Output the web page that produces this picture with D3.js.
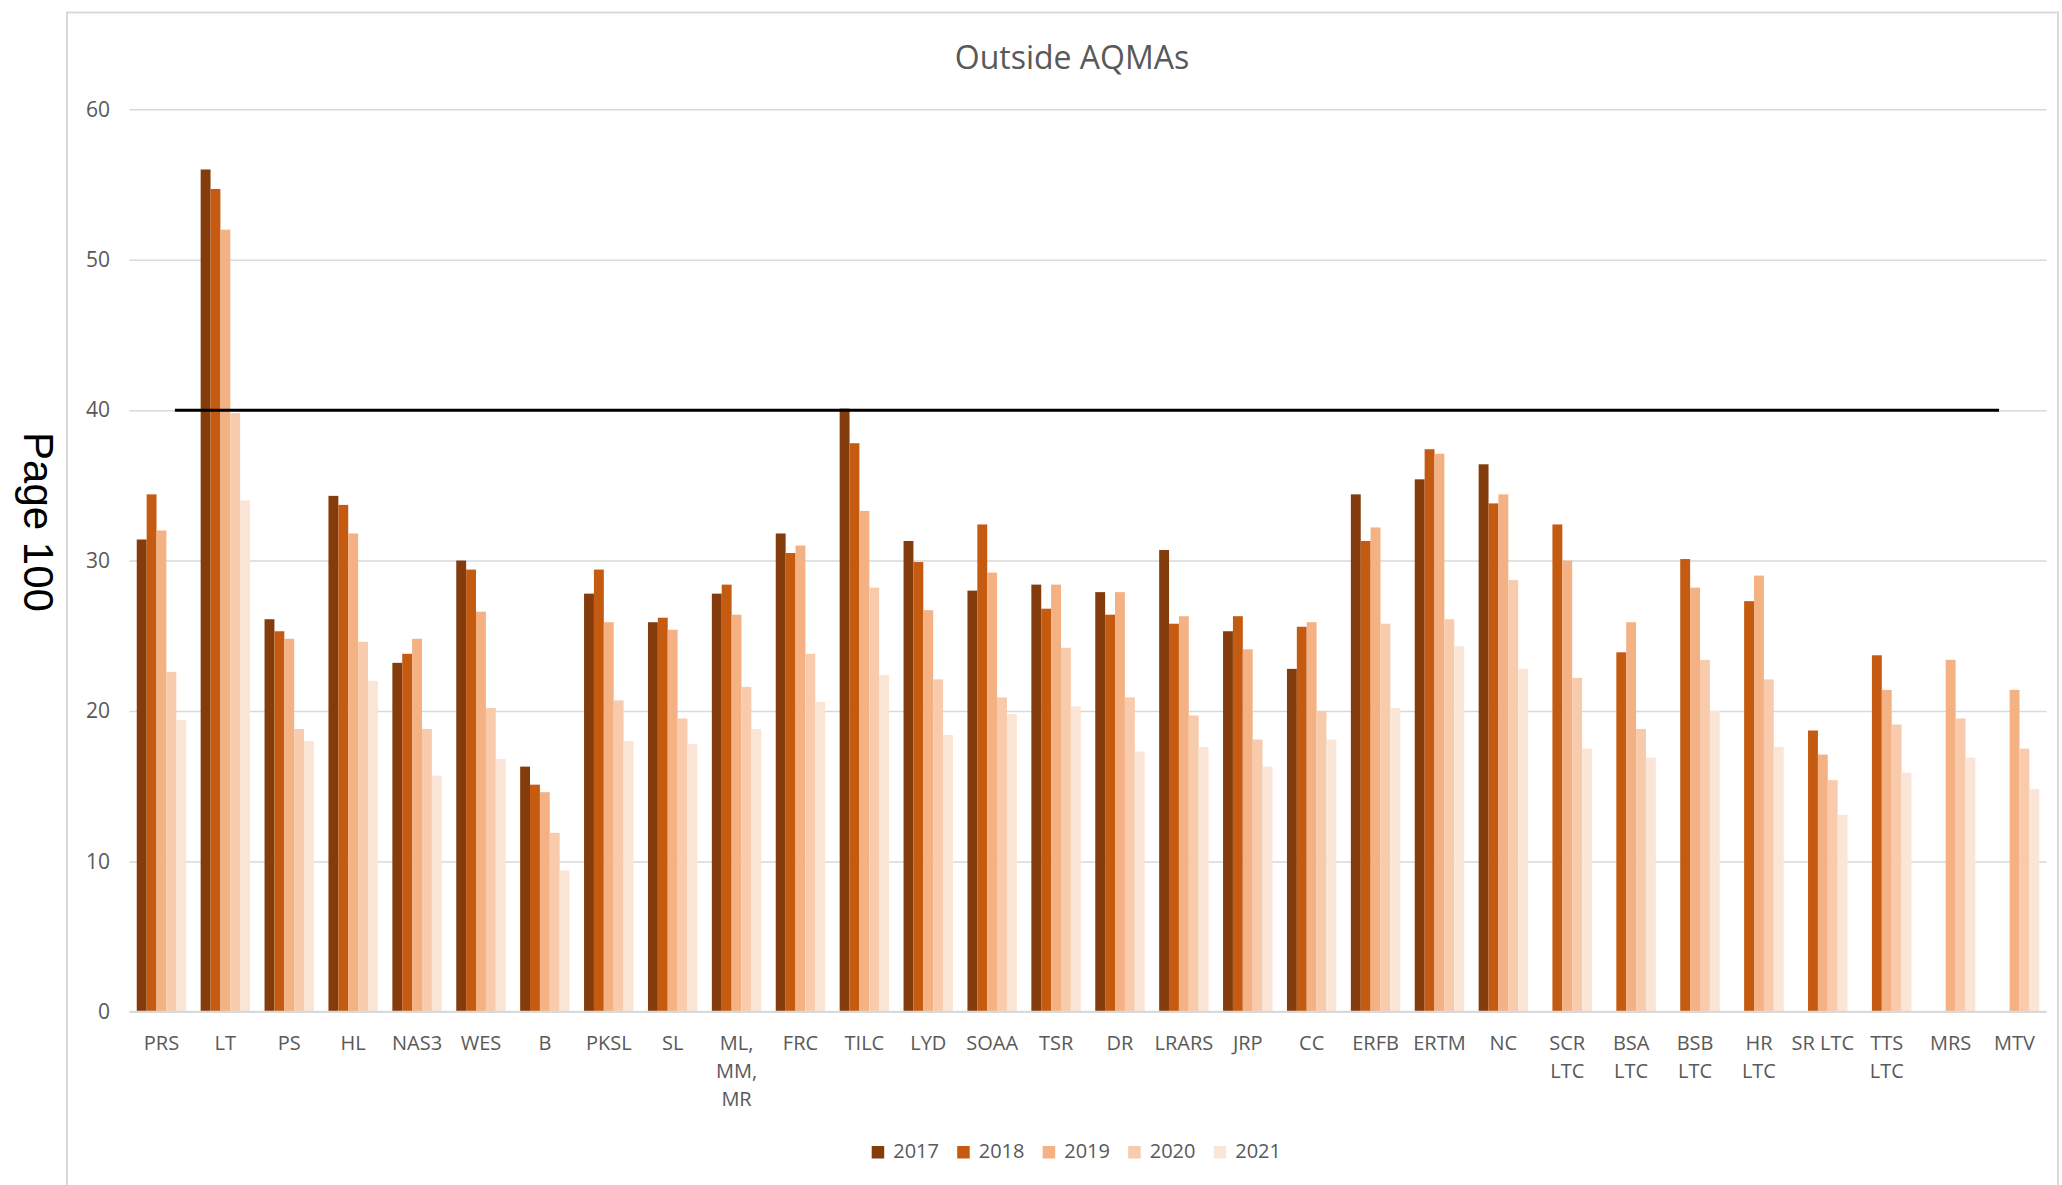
<!DOCTYPE html>
<html>
<head>
<meta charset="utf-8">
<script src="https://cdn.jsdelivr.net/npm/d3@7"></script>
<style>
  html, body { margin: 0; padding: 0; background: #fff; }
  svg { display: block; }
  text { font-family: "Open Sans", "DejaVu Sans", sans-serif; }
</style>
</head>
<body>
<svg id="chart" width="2062" height="1185"></svg>
<script>
// ---------- data ----------
const categories = ["PRS","LT","PS","HL","NAS3","WES","B","PKSL","SL","ML, MM, MR","FRC","TILC","LYD","SOAA","TSR","DR","LRARS","JRP","CC","ERFB","ERTM","NC","SCR LTC","BSA LTC","BSB LTC","HR LTC","SR LTC","TTS LTC","MRS","MTV"];
const categoryLabels = [["PRS"],["LT"],["PS"],["HL"],["NAS3"],["WES"],["B"],["PKSL"],["SL"],["ML,","MM,","MR"],["FRC"],["TILC"],["LYD"],["SOAA"],["TSR"],["DR"],["LRARS"],["JRP"],["CC"],["ERFB"],["ERTM"],["NC"],["SCR","LTC"],["BSA","LTC"],["BSB","LTC"],["HR","LTC"],["SR LTC"],["TTS","LTC"],["MRS"],["MTV"]];
const years = ["2017","2018","2019","2020","2021"];
const colors = ["#843C0C","#C55A11","#F4B183","#F8CBAD","#FBE5D6"];
const v2017 = [31.4,56.0,26.1,34.3,23.2,30.0,16.3,27.8,25.9,27.8,31.8,40.1,31.3,28.0,28.4,27.9,30.7,25.3,22.8,34.4,35.4,36.4,null,null,null,null,null,null,null,null];
const v2018 = [34.4,54.7,25.3,33.7,23.8,29.4,15.1,29.4,26.2,28.4,30.5,37.8,29.9,32.4,26.8,26.4,25.8,26.3,25.6,31.3,37.4,33.8,32.4,23.9,30.1,27.3,18.7,23.7,null,null];
const v2019 = [32.0,52.0,24.8,31.8,24.8,26.6,14.6,25.9,25.4,26.4,31.0,33.3,26.7,29.2,28.4,27.9,26.3,24.1,25.9,32.2,37.1,34.4,30.0,25.9,28.2,29.0,17.1,21.4,23.4,21.4];
const v2020 = [22.6,39.8,18.8,24.6,18.8,20.2,11.9,20.7,19.5,21.6,23.8,28.2,22.1,20.9,24.2,20.9,19.7,18.1,20.0,25.8,26.1,28.7,22.2,18.8,23.4,22.1,15.4,19.1,19.5,17.5];
const v2021 = [19.4,34.0,18.0,22.0,15.7,16.8,9.4,18.0,17.8,18.8,20.6,22.4,18.4,19.8,20.3,17.3,17.6,16.3,18.1,20.2,24.3,22.8,17.5,16.9,20.0,17.6,13.1,15.9,16.9,14.8];
const series = [v2017, v2018, v2019, v2020, v2021];
const yTicks = [0,10,20,30,40,50,60];
const limitValue = 40;
const title = "Outside AQMAs";
const sideNote = "Page 100";

// ---------- layout ----------
const svg = d3.select("#chart");
const plotLeft = 129.5, plotRight = 2046.5, plotTop = 109.3, plotBottom = 1011.8;

const x0 = d3.scaleBand().domain(categories).range([plotLeft, plotRight])
  .paddingInner(0.227).paddingOuter(0.1135);
const x1 = d3.scaleBand().domain(years).range([0, x0.bandwidth()]);
const y = d3.scaleLinear().domain([0, 60]).range([plotBottom, plotTop]);
const color = d3.scaleOrdinal().domain(years).range(colors);

// chart border
svg.append("rect")
  .attr("x", 67).attr("y", 12.5).attr("width", 1991).attr("height", 1200)
  .attr("fill", "none").attr("stroke", "#d9d9d9").attr("stroke-width", 2);

// side note
svg.append("text")
  .attr("transform", "translate(24,522) rotate(90)")
  .attr("text-anchor", "middle")
  .style("font-family", "'Liberation Sans', Arial, sans-serif")
  .style("font-size", "42px").attr("fill", "#000")
  .text(sideNote);

// title
svg.append("text")
  .attr("x", 1072).attr("y", 68.5)
  .attr("text-anchor", "middle")
  .style("font-size", "32px").attr("fill", "#595959")
  .text(title);

// gridlines
const yAxis = d3.axisLeft(y).tickValues(yTicks).tickSize(-(plotRight - plotLeft)).tickPadding(20);
const gy = svg.append("g").attr("transform", `translate(${plotLeft},0)`).call(yAxis);
gy.select(".domain").remove();
gy.selectAll(".tick line").attr("stroke", "#d9d9d9").attr("stroke-width", 1.5);
gy.selectAll(".tick text").attr("fill", "#595959")
  .style("font-size", "21px").style("font-family", "'Open Sans', sans-serif")
  .attr("x", 110 - plotLeft).attr("dx", 0);

// bars
const groups = svg.append("g").selectAll("g")
  .data(categories).join("g")
  .attr("transform", d => `translate(${x0(d)},0)`);
groups.selectAll("rect")
  .data((d, i) => years.map((yr, k) => ({ yr, v: series[k][i] })).filter(o => o.v != null))
  .join("rect")
  .attr("x", d => x1(d.yr))
  .attr("width", x1.bandwidth())
  .attr("y", d => y(d.v))
  .attr("height", d => y(0) - y(d.v))
  .attr("fill", d => color(d.yr));

// x axis baseline
svg.append("line")
  .attr("x1", plotLeft).attr("x2", plotRight)
  .attr("y1", y(0)).attr("y2", y(0))
  .attr("stroke", "#d9d9d9").attr("stroke-width", 2);

// category labels
const xl = svg.append("g").selectAll("text")
  .data(categories).join("text")
  .attr("text-anchor", "middle")
  .attr("fill", "#595959")
  .style("font-size", "20px")
  .attr("transform", d => `translate(${x0(d) + x0.bandwidth() / 2},${y(0) + 38})`);
xl.selectAll("tspan")
  .data((d, i) => categoryLabels[i])
  .join("tspan")
  .attr("x", 0)
  .attr("y", (d, j) => j * 28)
  .text(d => d);

// limit line
const step = x0.step();
const first = categories[0], last = categories[categories.length - 1];
svg.append("line")
  .attr("x1", x0(first) + x0.bandwidth() / 2 + 0.21 * step)
  .attr("x2", x0(last) + x0.bandwidth() / 2 - 0.243 * step)
  .attr("y1", y(limitValue)).attr("y2", y(limitValue))
  .attr("stroke", "#000").attr("stroke-width", 3);

// legend
const legendSpacing = 85.5;
const legendX = 871.7;
const lg = svg.append("g").selectAll("g")
  .data(years).join("g")
  .attr("transform", (d, i) => `translate(${legendX + i * legendSpacing},1146)`);
lg.append("rect").attr("width", 12.5).attr("height", 12.5).attr("fill", d => color(d));
lg.append("text").attr("x", 21.5).attr("y", 12.3)
  .style("font-size", "20px").attr("fill", "#595959").text(d => d);
</script>
</body>
</html>
